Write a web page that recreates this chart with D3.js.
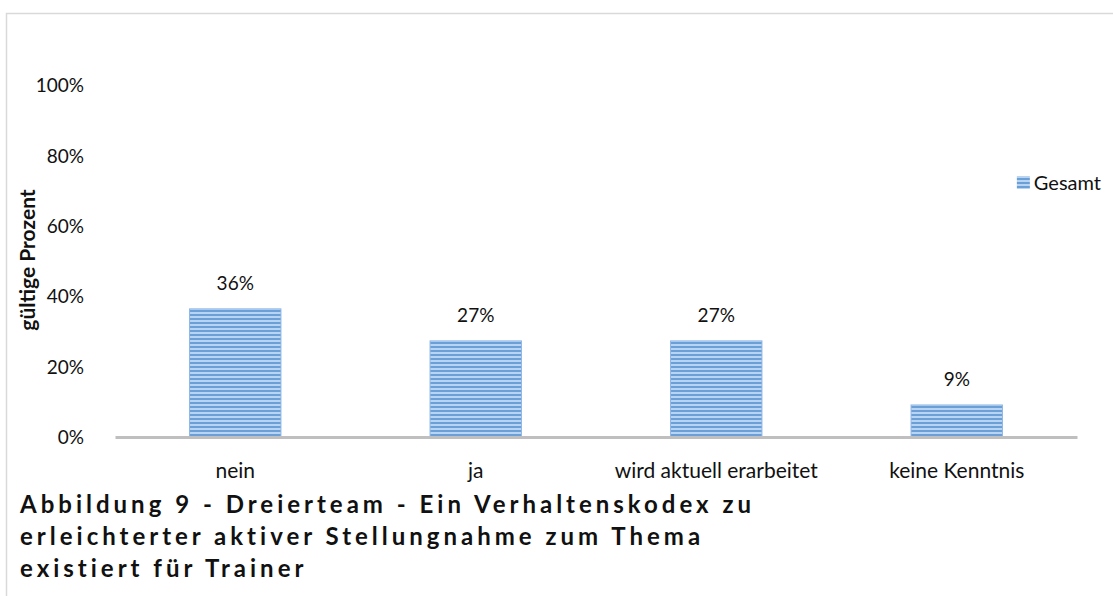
<!DOCTYPE html>
<html>
<head>
<meta charset="utf-8">
<script src="https://cdn.jsdelivr.net/npm/d3@7"></script>
<style>
  body { margin: 0; background: #fff; }
  text { font-family: Lato, "Liberation Sans", sans-serif; fill: #111; }
</style>
</head>
<body>
<div id="chart"></div>
<script>
// chart data
var categories = ["nein", "ja", "wird aktuell erarbeitet", "keine Kenntnis"];
var values = [36.4, 27.3, 27.3, 9.1];
var valueLabels = ["36%", "27%", "27%", "9%"];
var yTicks = [0, 20, 40, 60, 80, 100];
var seriesName = "Gesamt";
var yTitle = "gültige Prozent";
var titleLines = [
  "Abbildung 9 - Dreierteam - Ein Verhaltenskodex zu",
  "erleichterter aktiver Stellungnahme zum Thema",
  "existiert für Trainer"
];

var svgWidth = 1113, svgHeight = 596;
var plot = { left: 115, right: 1077, top: 85, bottom: 437 };

var svg = d3.select("#chart").append("svg")
  .attr("width", svgWidth)
  .attr("height", svgHeight);

// striped fill like the office chart
var defs = svg.append("defs");
var pat = defs.append("pattern")
  .attr("id", "stripes")
  .attr("patternUnits", "userSpaceOnUse")
  .attr("width", 8)
  .attr("height", 4);
pat.append("rect").attr("width", 8).attr("height", 4).attr("fill", "#b9d4f1");
pat.append("rect").attr("y", 2).attr("width", 8).attr("height", 2).attr("fill", "#6a9fd8");

// outer frame
svg.append("rect")
  .attr("x", 6.5).attr("y", 13.5)
  .attr("width", svgWidth + 20).attr("height", svgHeight + 20)
  .attr("fill", "none")
  .attr("stroke", "#d9d9d9")
  .attr("stroke-width", 1.5);

// scales
var x = d3.scaleBand()
  .domain(categories)
  .range([plot.left, plot.right])
  .paddingInner(0.62)
  .paddingOuter(0.31);

var y = d3.scaleLinear()
  .domain([0, 100])
  .range([plot.bottom, plot.top]);

// y axis labels only
var yAxis = d3.axisLeft(y)
  .tickValues(yTicks)
  .tickFormat(function(d) { return d + "%"; })
  .tickSize(0)
  .tickPadding(0);

var yG = svg.append("g")
  .attr("transform", "translate(84,0)")
  .call(yAxis);
yG.select(".domain").remove();
yG.selectAll("text")
  .attr("dy", "0.35em")
  .style("font-size", "19px")
  .style("font-family", "Lato, sans-serif")
  .attr("fill", "#111");

// bars
svg.selectAll("rect.bar")
  .data(values)
  .enter()
  .append("rect")
    .attr("class", "bar")
    .attr("x", function(d, i) { return x(categories[i]); })
    .attr("y", function(d) { return y(d); })
    .attr("width", x.bandwidth())
    .attr("height", function(d) { return y(0) - y(d); })
    .attr("fill", "url(#stripes)")
    .attr("stroke", "#8db6e6")
    .attr("stroke-width", 1);

// value labels
svg.selectAll("text.val")
  .data(values)
  .enter()
  .append("text")
    .attr("class", "val")
    .attr("x", function(d, i) { return x(categories[i]) + x.bandwidth() / 2; })
    .attr("y", function(d) { return y(d) - 19; })
    .attr("text-anchor", "middle")
    .style("font-size", "19px")
    .text(function(d, i) { return valueLabels[i]; });

// x axis line + category labels
var xAxis = d3.axisBottom(x).tickSize(0).tickPadding(0);
var xG = svg.append("g")
  .attr("transform", "translate(0," + plot.bottom + ")")
  .call(xAxis);
xG.select(".domain")
  .attr("stroke", "#bfbfbf")
  .attr("stroke-width", 3);
xG.selectAll("text")
  .attr("y", 41)
  .attr("dy", 0)
  .style("font-size", "21px")
  .style("font-family", "Lato, sans-serif")
  .attr("fill", "#111");

// y axis title
svg.append("text")
  .attr("transform", "translate(35,260) rotate(-90)")
  .attr("text-anchor", "middle")
  .style("font-size", "21px")
  .style("font-weight", "bold")
  .text(yTitle);

// legend
var legText = svg.append("text")
  .attr("x", 1101).attr("y", 190)
  .attr("text-anchor", "end")
  .style("font-size", "20px")
  .text(seriesName);
var legStart = 1101 - legText.node().getComputedTextLength();
svg.append("rect")
  .attr("x", legStart - 17).attr("y", 176)
  .attr("width", 13).attr("height", 13)
  .attr("fill", "url(#stripes)");

// figure caption
svg.append("g").selectAll("text")
  .data(titleLines)
  .enter()
  .append("text")
    .attr("x", 20)
    .attr("y", function(d, i) { return 513 + i * 32; })
    .style("font-size", "24px")
    .style("font-weight", "bold")
    .style("letter-spacing", "4px")
    .attr("fill", "#000")
    .text(function(d) { return d; });
</script>
</body>
</html>
